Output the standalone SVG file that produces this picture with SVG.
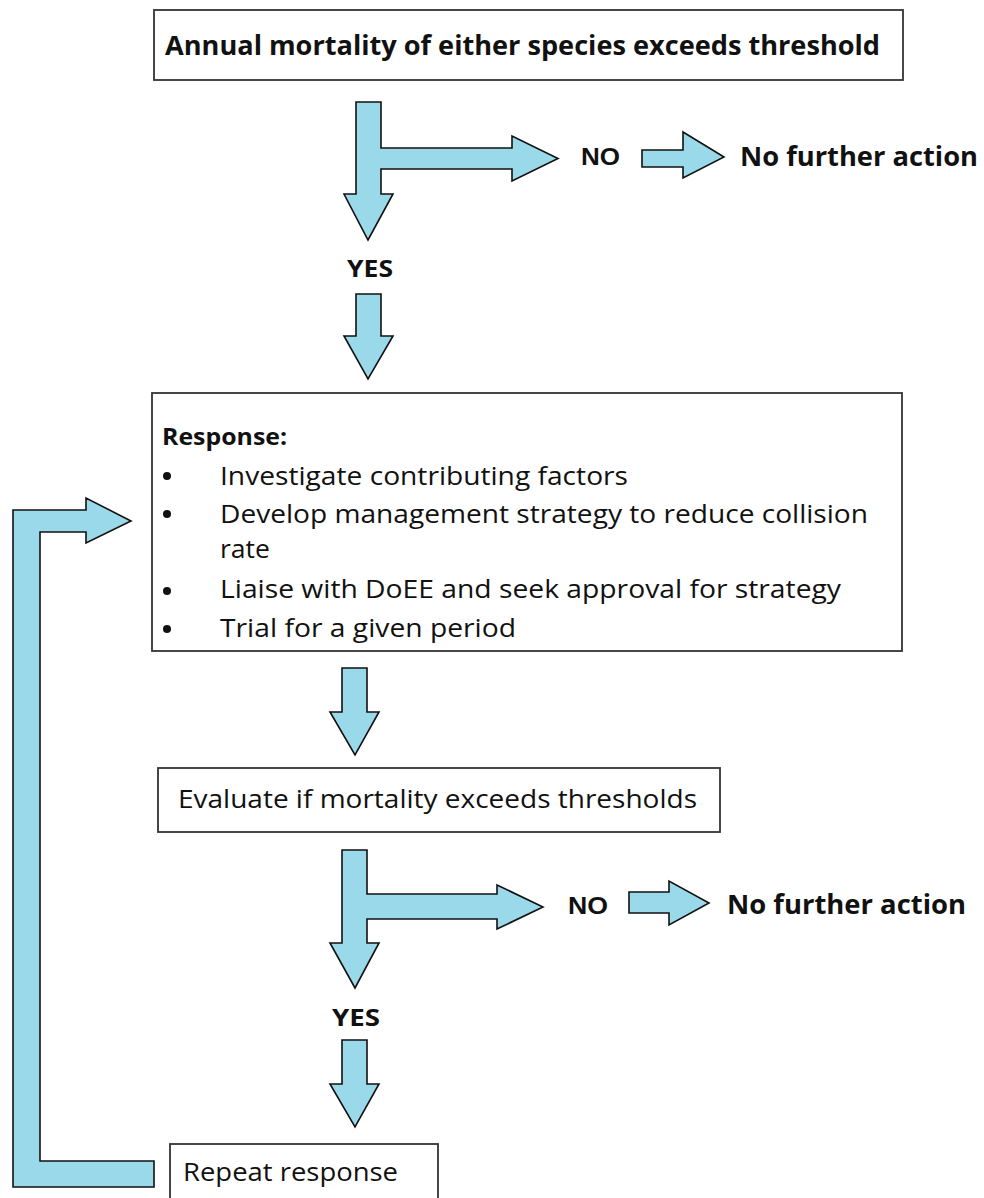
<svg xmlns="http://www.w3.org/2000/svg" width="984" height="1198" viewBox="0 0 984 1198">
<style>
.box{fill:#fff;stroke:#333;stroke-width:1.8}
.arr{fill:#9ad9e9;stroke:#111;stroke-width:1.6;stroke-linejoin:miter}
.t{font-family:"Open Sans","Noto Sans",sans-serif;fill:#111}
.b{font-weight:bold}
.yn{font-family:"Liberation Sans",Arial,sans-serif;font-weight:bold;fill:#111;font-size:24px}
</style>
<rect width="984" height="1198" fill="#fff"/>
<g id="connectors">
<polygon class="arr" points="356,102 381,102 381,148 512,148 512,136 558,158.5 512,181 512,169 381,169 381,194 393,194 368,240 344,194 356,194"/>
<polygon class="arr" points="642,150 683,150 683,132 724,157 683,178 683,167 642,167"/>
<polygon class="arr" points="356,294 381,294 381,336 393,336 368,379 344,336 356,336"/>
<polygon class="arr" points="342,668 367,668 367,712 379,712 355,755 330,712 342,712"/>
<polygon class="arr" points="342,850 367,850 367,894 497,894 497,885 543,907 497,929 497,919 367,919 367,943 379,943 355,988 330,943 342,943"/>
<polygon class="arr" points="629,892 669,892 669,881 709,903 669,925 669,913 629,913"/>
<polygon class="arr" points="342,1040 367,1040 367,1084 379,1084 355,1127 330,1084 342,1084"/>
<polygon class="arr" points="13,510 86,510 86,498 131,521 86,543 86,532 40,532 40,1161 154,1161 154,1187 13,1187"/>
</g>
<g id="n-start">
<rect class="box" x="154" y="10" width="749" height="70"/>
<text class="t b" x="165" y="55" font-size="26" textLength="715" lengthAdjust="spacingAndGlyphs">Annual mortality of either species exceeds threshold</text>
</g>
<g id="l-no1"><text class="yn" x="581" y="165" textLength="39" lengthAdjust="spacingAndGlyphs">NO</text></g>
<g id="n-nfa1"><text class="t b" x="740" y="166" font-size="26" textLength="238" lengthAdjust="spacingAndGlyphs">No further action</text></g>
<g id="l-yes1"><text class="t b" x="347" y="277" font-size="23" textLength="46" lengthAdjust="spacingAndGlyphs">YES</text></g>
<g id="n-response">
<rect class="box" x="152" y="393" width="750" height="258"/>
<text class="t b" x="162" y="445" font-size="23" textLength="125" lengthAdjust="spacingAndGlyphs">Response:</text>
<circle cx="167" cy="476" r="4" fill="#111"/>
<circle cx="167" cy="514" r="4" fill="#111"/>
<circle cx="167" cy="591" r="4" fill="#111"/>
<circle cx="167" cy="629" r="4" fill="#111"/>
<text class="t" x="220" y="485" font-size="26" textLength="408" lengthAdjust="spacingAndGlyphs">Investigate contributing factors</text>
<text class="t" x="220" y="523" font-size="26" textLength="648" lengthAdjust="spacingAndGlyphs">Develop management strategy to reduce collision</text>
<text class="t" x="220" y="558" font-size="26" textLength="50" lengthAdjust="spacingAndGlyphs">rate</text>
<text class="t" x="220" y="598" font-size="26" textLength="621" lengthAdjust="spacingAndGlyphs">Liaise with DoEE and seek approval for strategy</text>
<text class="t" x="220" y="637" font-size="26" textLength="296" lengthAdjust="spacingAndGlyphs">Trial for a given period</text>
</g>
<g id="n-evaluate">
<rect class="box" x="158" y="768" width="562" height="64"/>
<text class="t" x="178" y="808" font-size="26" textLength="519" lengthAdjust="spacingAndGlyphs">Evaluate if mortality exceeds thresholds</text>
</g>
<g id="l-no2"><text class="yn" x="568" y="914" textLength="40" lengthAdjust="spacingAndGlyphs">NO</text></g>
<g id="n-nfa2"><text class="t b" x="727" y="914" font-size="26" textLength="239" lengthAdjust="spacingAndGlyphs">No further action</text></g>
<g id="l-yes2"><text class="t b" x="332" y="1026" font-size="23" textLength="48" lengthAdjust="spacingAndGlyphs">YES</text></g>
<g id="n-repeat">
<rect class="box" x="170" y="1144" width="268" height="70"/>
<text class="t" x="183" y="1181" font-size="26" textLength="215" lengthAdjust="spacingAndGlyphs">Repeat response</text>
</g>
</svg>
